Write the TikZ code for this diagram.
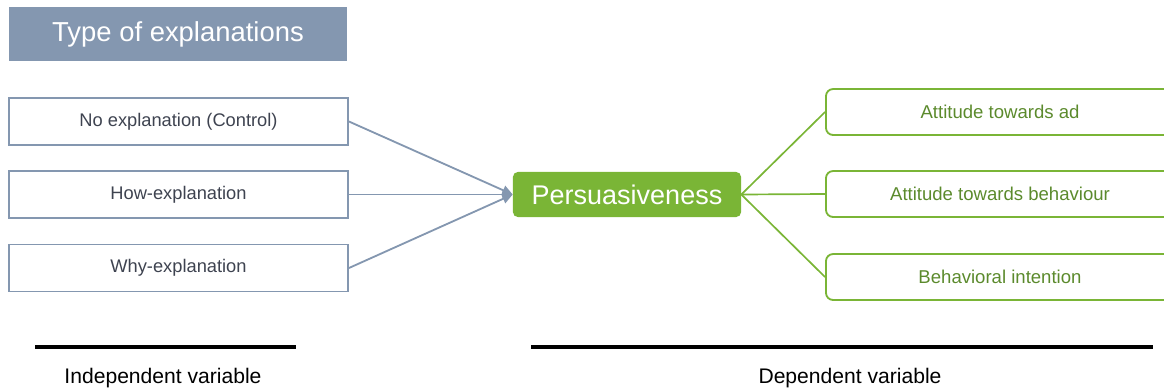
\documentclass[tikz,border=0pt]{standalone}
\usepackage{fontspec}
\setmainfont{Liberation Sans}
\usetikzlibrary{arrows.meta, positioning}

\definecolor{slate}{HTML}{8497B0}
\definecolor{leaf}{HTML}{7AB536}
\definecolor{leafdark}{HTML}{5B8A2C}
\definecolor{ink}{HTML}{3E4350}

\begin{document}
\begin{tikzpicture}[
  x=0.025cm, y=-0.025cm,
  title/.style={fill=slate, text=white, font=\fontsize{19.5}{22}\selectfont, minimum width=8.45cm, minimum height=1.35cm, inner sep=0pt},
  ivbox/.style={draw=slate, line width=1.3pt, text=ink, font=\fontsize{13}{15}\selectfont, minimum width=8.475cm, minimum height=1.175cm, inner sep=0pt},
  dvbox/.style={draw=leaf, line width=1.3pt, rounded corners=0.18cm, text=leafdark, font=\fontsize{13.2}{15}\selectfont, minimum width=8.7cm, minimum height=1.15cm, inner sep=0pt},
  centre/.style={fill=leaf, rounded corners=0.12cm, text=white, font=\fontsize{19.2}{22}\selectfont, minimum width=5.7cm, minimum height=1.125cm, inner sep=0pt},
  link/.style={draw=slate, line width=1.3pt, -{Triangle[length=2.6mm, width=2.4mm]}},
  branch/.style={draw=leaf, line width=1.2pt},
  rule/.style={line width=2.2pt, black},
  caption/.style={font=\fontsize{15}{17}\selectfont, text=black}
]
  \useasboundingbox (0,0) rectangle (1164,389);

  % independent side
  \node[title] (kind) at (178,34) {Type of explanations};
  \node[ivbox] (none) at (178.5,121.5) {No explanation (Control)};
  \node[ivbox] (how) at (178.5,194.5) {How-explanation};
  \node[ivbox] (why) at (178.5,268) {Why-explanation};

  % centre
  \node[centre] (pers) at (627,194.5) {Persuasiveness};

  \draw[link] (none.east) -- (pers.west);
  \draw[link] (how.east) -- (pers.west);
  \draw[link] (why.east) -- (pers.west);

  % dependent side
  \node[dvbox] (ad) at (1000,112) {Attitude towards ad};
  \node[dvbox] (beh) at (1000,194) {Attitude towards behaviour};
  \node[dvbox] (intent) at (1000,277) {Behavioral intention};

  \draw[branch] (pers.east) -- (ad.west);
  \draw[branch] (pers.east) -- (beh.west);
  \draw[branch] (pers.east) -- (intent.west);

  % variable captions
  \draw[rule] (35,347) -- (296,347);
  \draw[rule] (531,347) -- (1153,347);
  \node[caption] (indep) at (163,378) {Independent variable};
  \node[caption] (dep) at (850,378) {Dependent variable};

\end{tikzpicture}
\end{document}
